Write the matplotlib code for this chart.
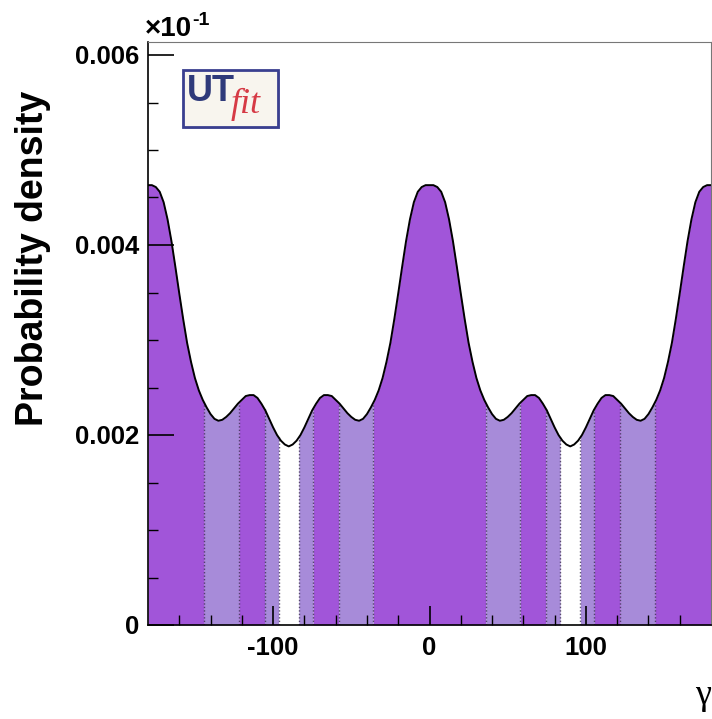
import numpy as np
import matplotlib
matplotlib.use('Agg')
import matplotlib.pyplot as plt
from matplotlib.patches import Rectangle

plt.rcParams['axes.unicode_minus'] = False

# gamma grid (degrees) and probability density
gamma = np.arange(-180, 180.1, 2.5)
density = np.array([
    463, 463, 461, 456, 445, 427, 404, 377, 349, 322, 297, 277, 260, 247, 237, 229, 222, 217, 215,
    216, 219, 223, 228, 233, 237, 241, 242, 242, 239, 233, 226, 217, 208, 200, 194, 190, 188,
    190, 194, 200, 208, 217, 226, 233, 239, 242, 242, 241, 237, 233, 228, 223, 219, 216, 215,
    217, 222, 229, 237, 247, 260, 277, 297, 322, 349, 377, 404, 427, 445, 456, 461, 463,
    463, 463, 461, 456, 445, 427, 404, 377, 349, 322, 297, 277, 260, 247, 237, 229, 222, 217, 215,
    216, 219, 223, 228, 233, 237, 241, 242, 242, 239, 233, 226, 217, 208, 200, 194, 190, 188,
    190, 194, 200, 208, 217, 226, 233, 239, 242, 242, 241, 237, 233, 228, 223, 219, 216, 215,
    217, 222, 229, 237, 247, 260, 277, 297, 322, 349, 377, 404, 427, 445, 456, 461, 463, 463,
]) * 1e-5

# probability regions: 68% (dark), 95% (light), rest white
dark_bands = [(-180, -144), (-122, -105.5), (-74.5, -58), (-36, 36), (58, 74.5), (105.5, 122), (144, 180)]
light_bands = [(-144, -122), (-105.5, -96.5), (-83.5, -74.5), (-58, -36),
               (36, 58), (74.5, 83.5), (96.5, 105.5), (122, 144)]

dark = '#a155d9'
light = '#a78bd9'

fig = plt.figure(figsize=(7.12, 7.19), dpi=100)
ax = fig.add_axes([148 / 712, 94 / 719, 563 / 712, 583.3 / 719])


def band(lo, hi, color):
    inside = (gamma > lo) & (gamma < hi)
    xs = np.concatenate([[lo], gamma[inside], [hi]])
    ys = np.interp(xs, gamma, density)
    ax.fill_between(xs, 0, ys, color=color, lw=0, zorder=1)


for lo, hi in dark_bands:
    band(lo, hi, dark)
for lo, hi in light_bands:
    band(lo, hi, light)

edges = sorted(set([b for pair in dark_bands + light_bands for b in pair]) - {-180, 180})
for e in edges:
    ax.vlines(e, 0, np.interp(e, gamma, density), colors='#3a3050', linestyles=(0, (1, 1.5)),
              lw=1.0, alpha=0.8, zorder=1.5)

ax.plot(gamma, density, color='black', lw=1.4, zorder=2)

ax.set_xlim(-180, 180)
ax.set_ylim(0, 0.00614)

ax.set_xticks([-100, 0, 100])
ax.set_xticks(np.arange(-160, 161, 20), minor=True)
ax.set_yticks([0, 0.002, 0.004, 0.006])
ax.set_yticks(np.arange(0, 0.0061, 0.0005), minor=True)
ax.set_yticklabels(['0', '0.002', '0.004', '0.006'])
ax.set_xticklabels(['-100', '0', '100'])

for lab in ax.get_xticklabels() + ax.get_yticklabels():
    lab.set_fontfamily('Liberation Sans')
    lab.set_fontweight('bold')
    lab.set_fontsize(18.5)

ax.tick_params(which='major', direction='in', length=14, width=1.2, top=False, right=False)
ax.tick_params(which='minor', direction='in', length=7, width=1.0, top=False, right=False)
ax.tick_params(axis='y', which='major', length=19)
ax.tick_params(axis='x', pad=8)
ax.tick_params(axis='y', pad=6)

for s in ['left', 'bottom']:
    ax.spines[s].set_linewidth(1.2)
ax.spines['top'].set_color('#777777')
ax.spines['right'].set_color('#777777')

fig.text(33 / 712, 1 - 258 / 719, 'Probability density', rotation=90, ha='center', va='center',
         fontsize=27, fontweight='bold', family='Liberation Sans')
fig.text(711 / 712, 1 - 696 / 719, 'γ', ha='right', va='center', fontsize=26, family='Liberation Serif')

# ROOT style exponent above the y axis
fig.text(145 / 712, 1 - 36 / 719, '×10', ha='left', va='baseline', fontsize=20,
         fontweight='bold', family='Liberation Sans')
fig.text(192 / 712, 1 - 25 / 719, '-1', ha='left', va='baseline', fontsize=14,
         fontweight='bold', family='Liberation Sans')

# UTfit logo
fig.add_artist(Rectangle((185 / 712, 1 - 129 / 719), 95 / 712, 57 / 719, transform=fig.transFigure,
                         facecolor='#c8c8d0', edgecolor='none', zorder=5))
fig.add_artist(Rectangle((183 / 712, 1 - 127 / 719), 95 / 712, 57 / 719, transform=fig.transFigure,
                         facecolor='#f8f5ee', edgecolor='#3a3f8f', lw=2, zorder=6))
fig.text(187 / 712, 1 - 101 / 719, 'UT', ha='left', va='baseline', fontsize=26, fontweight='bold',
         color='#2f3a7a', family='Liberation Sans', zorder=7)
fig.text(231 / 712, 1 - 113 / 719, 'fit', ha='left', va='baseline', fontsize=26, style='italic',
         color='#d63a45', family='Liberation Serif', zorder=7)

fig.savefig('out.png', dpi=100)
